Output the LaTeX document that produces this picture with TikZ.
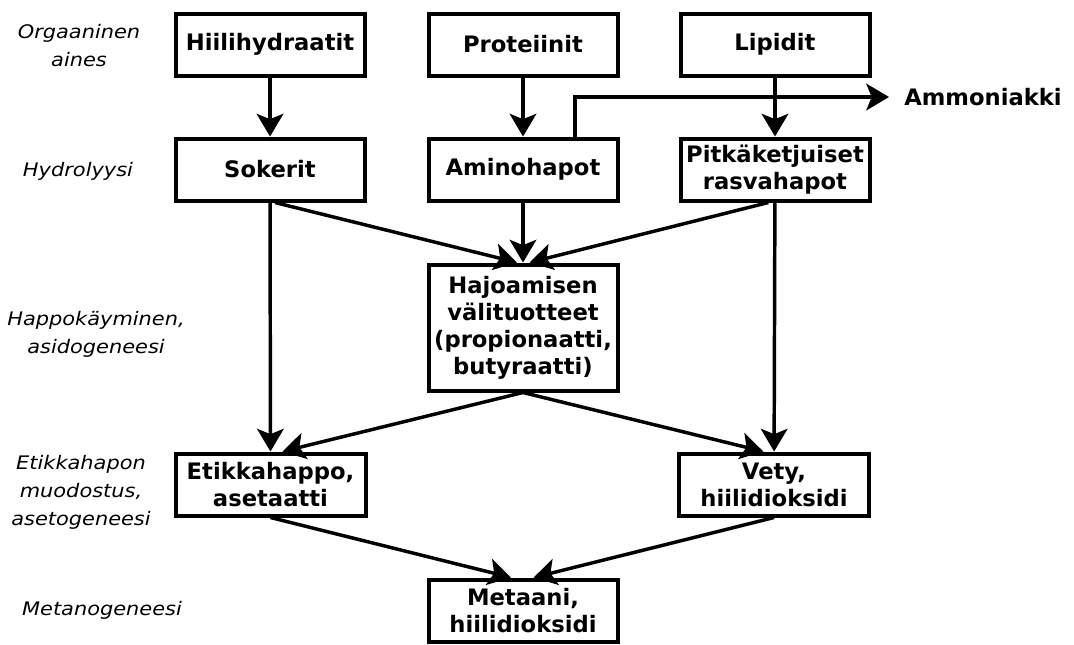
\documentclass[tikz,border=0pt]{standalone}
\usepackage{fontspec}
\setmainfont{DejaVu Sans}
\newfontfamily\labfont{DejaVu Sans}[FakeStretch=1.12]
\usetikzlibrary{arrows.meta}
\begin{document}
\begin{tikzpicture}[x=0.75pt,y=-0.75pt,
  box/.style={draw, line width=3pt, minimum width=141.75pt, minimum height=46.5pt,
    inner sep=0pt, align=center, font=\fontsize{17}{20.25}\selectfont\bfseries},
  lab/.style={align=center, inner sep=0pt, font=\labfont\itshape\fontsize{14}{21}\selectfont},
  arr/.style={line width=2.6pt, -{Stealth[length=17pt,width=20pt,inset=4pt,fill=black]}},
]
\useasboundingbox (0,0) rectangle (1074,644);

\node[box] (hiili) at (270,44.5) {Hiilihydraatit};
\node[box] (prot) at (523,44.5) {Proteiinit};
\node[box] (lip) at (775,44.5) {Lipidit};
\node[box] (sok) at (270,169.5) {Sokerit};
\node[box] (amin) at (523,169.5) {Aminohapot};
\node[box] (pitk) at (775,169.5) {Pitkäketjuiset\\rasvahapot};
\node[box, minimum height=94.5pt] (haj) at (523,327.5) {Hajoamisen\\välituotteet\\(propionaatti,\\butyraatti)};
\node[box, minimum width=142.5pt] (etik) at (270.5,484.5) {Etikkahappo,\\asetaatti};
\node[box, minimum width=142.5pt] (vety) at (774,484.5) {Vety,\\hiilidioksidi};
\node[box] (met) at (523,610.5) {Metaani,\\hiilidioksidi};
\node[anchor=west, inner xsep=11.25pt, inner ysep=0pt, font=\fontsize{17}{20}\selectfont\bfseries] (amm) at (889,97) {Ammoniakki};

\node[lab] (l1) at (79,46) {Orgaaninen\\aines};
\node[lab] (l2) at (78,171) {Hydrolyysi};
\node[lab] (l3) at (96,334) {Happokäyminen,\\asidogeneesi};
\node[lab] (l4) at (81,492) {Etikkahapon\\muodostus,\\asetogeneesi};
\node[lab] (l5) at (102,610) {Metanogeneesi};

\coordinate (br) at (575,0);
\draw[arr] (hiili) -- (sok);
\draw[arr] (prot) -- (amin);
\draw[arr] (lip) -- (pitk);
\draw[arr] (amin.north -| br) |- (amm.west);
\draw[arr] ([xshift=3.75pt]sok.south) -- ([xshift=-4.5pt]haj.north);
\draw[arr] (amin) -- (haj);
\draw[arr] ([xshift=-5pt]pitk.south) -- ([xshift=5pt]haj.north);
\draw[arr] (sok) -- (etik);
\draw[arr] (haj.south) -- ([xshift=9pt]etik.north);
\draw[arr] (haj.south) -- ([xshift=-8pt]vety.north);
\draw[arr] (pitk) -- (vety);
\draw[arr] (etik.south) -- ([xshift=-9pt]met.north);
\draw[arr] (vety.south) -- ([xshift=8pt]met.north);
\end{tikzpicture}
\end{document}
